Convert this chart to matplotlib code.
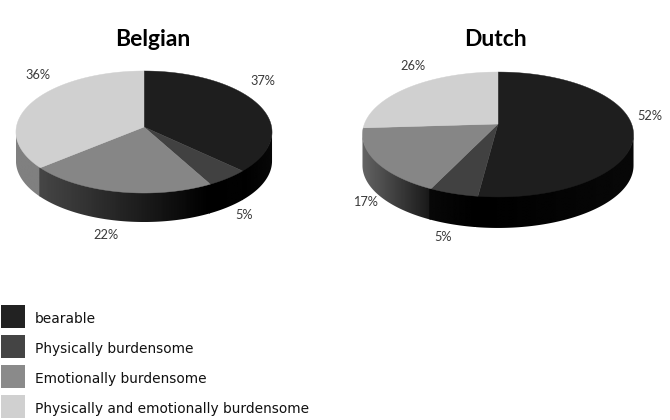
import matplotlib
matplotlib.use('Agg')
import matplotlib.pyplot as plt
from matplotlib.patches import Polygon, Rectangle
import numpy as np

categories = ['bearable', 'Physically burdensome', 'Emotionally burdensome',
              'Physically and emotionally burdensome']
belgian = [37, 5, 22, 36]
dutch = [52, 5, 17, 26]

top_colors = ['#1e1e1e', '#414141', '#868686', '#d0d0d0']
legend_colors = ['#222222', '#444444', '#8a8a8a', '#d0d0d0']

fig = plt.figure(figsize=(6.7, 4.2), dpi=100)
ax = fig.add_axes([0, 0, 1, 1])


def rim(th, cx, cy, a, b, k):
    # circle seen in perspective, th clockwise from 12 o'clock
    u, v = np.sin(th), np.cos(th)
    w = 1 + k * v
    return cx + a * u / w, cy - b * v / w


def pie3d(values, cx, cy, a, b, k, depth, wall_shades):
    fr = np.cumsum([0] + list(values)) / sum(values) * 2 * np.pi
    dense = np.linspace(0, 2 * np.pi, 1441)
    xs = rim(dense, cx, cy, a, b, k)[0]
    th_r, th_l = dense[np.argmax(xs)], dense[np.argmin(xs)]
    for i in range(len(values)):
        # side wall, only the part turned towards the viewer
        t0, t1 = max(fr[i], th_r), min(fr[i + 1], th_l)
        if t1 > t0:
            # small overlap so no white seam shows between two walls
            th = np.linspace(t0, min(t1 + 0.012, th_l), 120)
            x, y = rim(th, cx, cy, a, b, k)
            pts = np.r_[np.c_[x, y - 1], np.c_[x[::-1], y[::-1] + depth]]
            clip = Polygon(pts, transform=ax.transData, fc='none', ec='none')
            ax.add_patch(clip)
            grad = np.linspace(wall_shades[i][0], wall_shades[i][1], 64)[None, :]
            im = ax.imshow(grad, cmap='gray', vmin=0, vmax=255, aspect='auto',
                           extent=(x.min(), x.max(), y.max() + depth, y.min() - 1),
                           interpolation='bilinear', zorder=1 + 0.01 * (len(values) - i))
            im.set_clip_path(clip)
        # top face
        th = np.linspace(fr[i], fr[i + 1], 120)
        x, y = rim(th, cx, cy, a, b, k)
        pts = np.r_[[[cx, cy]], np.c_[x, y]]
        ax.add_patch(Polygon(pts, fc=top_colors[i], ec=top_colors[i], lw=0.3, zorder=2))


# wall shades are given left to right for each slice
pie3d(belgian, 144, 127, 127.6, 60.6, 0.082, 29,
      [(0, 8), (0, 2), (70, 0), (128, 128)])
pie3d(dutch, 498, 124, 133.6, 60.7, 0.168, 31,
      [(0, 8), (8, 0), (100, 24), (128, 128)])

ax.text(153, 39, 'Belgian', fontsize=16.5, fontweight='bold', family='Lato',
        ha='center', va='center', color='black')
ax.text(495, 39, 'Dutch', fontsize=16.5, fontweight='bold', family='Lato',
        ha='center', va='center', color='black')

label_xy_b = [(263, 81), (244, 215), (106, 235), (38, 75)]
label_xy_d = [(650, 116), (443, 237), (365, 202), (413, 66)]
for vals, places in ((belgian, label_xy_b), (dutch, label_xy_d)):
    for v, (lx, ly) in zip(vals, places):
        ax.text(lx, ly, f'{v}%', fontsize=9.2, family='Lato', color='#3a3a3a',
                ha='center', va='center')

legend_y = [305, 335, 365, 395]
for name, col, ly in zip(categories, legend_colors, legend_y):
    ax.add_patch(Rectangle((1, ly), 24, 23, fc=col, ec='none'))
    ax.text(35, ly + 14, name, fontsize=9.9, family='DejaVu Sans', color='#111111',
            ha='left', va='center')

ax.set_xlim(0, 670)
ax.set_ylim(420, 0)
ax.axis('off')
fig.savefig('out.png', dpi=100)
